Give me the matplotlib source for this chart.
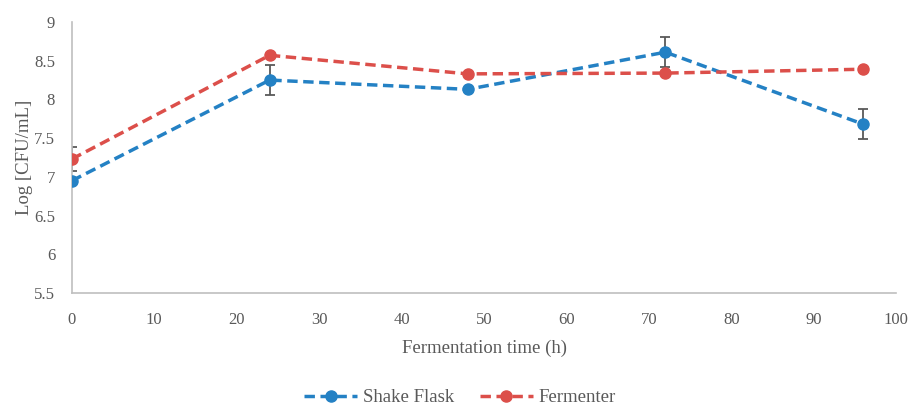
import matplotlib
matplotlib.use('Agg')
import matplotlib.pyplot as plt

# sampling times (h)
time_h = [0, 24, 48, 72, 96]

# viable counts, Log [CFU/mL]
shake_flask = [6.95, 8.25, 8.13, 8.61, 7.68]
shake_flask_err = [0.0, 0.19, 0.0, 0.19, 0.19]
fermenter = [7.23, 8.57, 8.33, 8.34, 8.39]
fermenter_err = [0.15, 0.0, 0.0, 0.0, 0.0]

plt.rcParams['font.family'] = ['Liberation Serif', 'DejaVu Serif']

fig = plt.figure(figsize=(9.09, 4.07), dpi=100)
ax = fig.add_axes([0.079, 0.28, 0.907, 0.666])

blue = '#2481c4'
red = '#dc4f4a'
grey = '#595959'

ax.plot(time_h, shake_flask, color=blue, linestyle=(0, (3, 1.6)), linewidth=2.5,
        marker='o', markersize=8, label='Shake Flask', zorder=3)
ax.errorbar(time_h, shake_flask, yerr=shake_flask_err, fmt='none', ecolor=grey,
            elinewidth=1.3, capsize=3.3, capthick=1.3, zorder=2)
ax.plot(time_h, fermenter, color=red, linestyle=(0, (3, 1.6)), linewidth=2.5,
        marker='o', markersize=8, label='Fermenter', zorder=3)
ax.errorbar(time_h, fermenter, yerr=fermenter_err, fmt='none', ecolor=grey,
            elinewidth=1.3, capsize=3.3, capthick=1.3, zorder=2)

ax.set_xlim(0, 100)
ax.set_ylim(5.5, 9)
ax.set_xticks(range(0, 101, 10))
ax.set_yticks([5.5, 6, 6.5, 7, 7.5, 8, 8.5, 9])
ax.set_yticklabels(['5.5', '6', '6.5', '7', '7.5', '8', '8.5', '9'])
ax.tick_params(length=0, labelsize=12, colors='#595959')
ax.tick_params(axis='x', pad=14)
ax.tick_params(axis='y', pad=12)

for side in ['top', 'right']:
    ax.spines[side].set_visible(False)
for side in ['left', 'bottom']:
    ax.spines[side].set_color('#bfbfbf')
    ax.spines[side].set_linewidth(1.2)

ax.set_xlabel('Fermentation time (h)', fontsize=13.5, color='#595959', labelpad=8)
ax.set_ylabel('Log [CFU/mL]', fontsize=13.5, color='#595959', labelpad=1)

leg = fig.legend(loc='lower center', bbox_to_anchor=(0.506, -0.04), ncol=2,
                 frameon=False, fontsize=13.5, handlelength=2.8, handletextpad=0.3,
                 columnspacing=1.4)
for t in leg.get_texts():
    t.set_color('#595959')

fig.savefig('out.png', dpi=100)
